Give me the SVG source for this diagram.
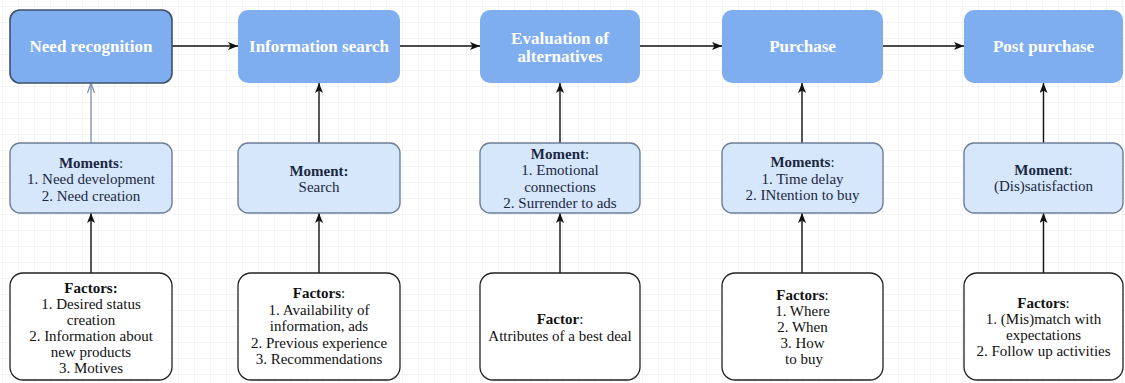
<svg xmlns="http://www.w3.org/2000/svg" width="1125" height="383" viewBox="0 0 1125 383">
<defs>
<pattern id="grid" width="16" height="16" patternUnits="userSpaceOnUse" x="2" y="6">
<path d="M16 0 L0 0 0 16" fill="none" stroke="#e9e9e9" stroke-width="1"/>
</pattern>
<marker id="ah" markerWidth="10" markerHeight="8" refX="10" refY="4" orient="auto" markerUnits="userSpaceOnUse">
<path d="M0,0 L10,4 L0,8 L2.5,4 Z" fill="#111"/>
</marker>
<marker id="ahb" markerWidth="10" markerHeight="8" refX="10" refY="4" orient="auto" markerUnits="userSpaceOnUse">
<path d="M0,0.5 L10,4 L0,7.5" fill="none" stroke="#7d8fa6" stroke-width="1.3"/>
</marker>
</defs>
<style>
.stage{fill:#7eaef0;stroke:none}
.stage1{fill:#7eaef0;stroke:#3f5068;stroke-width:1.6}
.mom{fill:#d6e7fb;stroke:#6c7f98;stroke-width:1.4}
.fac{fill:#ffffff;stroke:#222;stroke-width:1.3}
.t{font-family:"Liberation Serif","Times New Roman",serif;text-anchor:middle}
.ts{font-size:17px;font-weight:bold;fill:#ffffff}
.tm{font-size:15px;fill:#1b2742}
.tf{font-size:15px;fill:#111}
.b{font-weight:bold}
.conn{stroke:#111;stroke-width:1.4;fill:none}
.connb{stroke:#7d8fa6;stroke-width:1.3;fill:none}
</style>
<rect width="1125" height="383" fill="#ffffff"/>
<rect width="1125" height="383" fill="url(#grid)"/>

<g id="connectors">
<line class="conn" x1="172" y1="46" x2="238" y2="46" marker-end="url(#ah)"/>
<line class="conn" x1="400" y1="46" x2="480" y2="46" marker-end="url(#ah)"/>
<line class="conn" x1="640" y1="46" x2="722" y2="46" marker-end="url(#ah)"/>
<line class="conn" x1="883" y1="46" x2="964" y2="46" marker-end="url(#ah)"/>
<line class="connb" x1="91" y1="143" x2="91" y2="83" marker-end="url(#ahb)"/>
<line class="conn" x1="319" y1="143" x2="319" y2="83" marker-end="url(#ah)"/>
<line class="conn" x1="560" y1="143" x2="560" y2="83" marker-end="url(#ah)"/>
<line class="conn" x1="802" y1="143" x2="802" y2="83" marker-end="url(#ah)"/>
<line class="conn" x1="1043.5" y1="143" x2="1043.5" y2="83" marker-end="url(#ah)"/>
<line class="conn" x1="91" y1="273" x2="91" y2="213" marker-end="url(#ah)"/>
<line class="conn" x1="319" y1="273" x2="319" y2="213" marker-end="url(#ah)"/>
<line class="conn" x1="560" y1="273" x2="560" y2="213" marker-end="url(#ah)"/>
<line class="conn" x1="802" y1="273" x2="802" y2="213" marker-end="url(#ah)"/>
<line class="conn" x1="1043.5" y1="273" x2="1043.5" y2="213" marker-end="url(#ah)"/>
</g>

<g id="need-recognition">
<rect class="stage1" x="10" y="10" width="162" height="73" rx="10"/>
<text class="t ts" x="91" y="52">Need recognition</text>
</g>
<g id="information-search">
<rect class="stage" x="238" y="10" width="162" height="73" rx="10"/>
<text class="t ts" x="319" y="52">Information search</text>
</g>
<g id="evaluation">
<rect class="stage" x="480" y="10" width="160" height="73" rx="10"/>
<text class="t ts" x="560" y="43.5">Evaluation of</text>
<text class="t ts" x="560" y="62">alternatives</text>
</g>
<g id="purchase">
<rect class="stage" x="722" y="10" width="161" height="73" rx="10"/>
<text class="t ts" x="802.5" y="52">Purchase</text>
</g>
<g id="post-purchase">
<rect class="stage" x="964" y="10" width="159" height="73" rx="10"/>
<text class="t ts" x="1043.5" y="52">Post purchase</text>
</g>

<g id="moments-1">
<rect class="mom" x="10" y="143" width="162" height="70" rx="10"/>
<text class="t tm" x="91" y="167.5"><tspan class="b">Moments</tspan>:</text>
<text class="t tm" x="91" y="184">1. Need development</text>
<text class="t tm" x="91" y="200.5">2. Need creation</text>
</g>
<g id="moment-2">
<rect class="mom" x="238" y="143" width="162" height="70" rx="10"/>
<text class="t tm" x="319" y="176"><tspan class="b">Moment:</tspan></text>
<text class="t tm" x="319" y="192">Search</text>
</g>
<g id="moment-3">
<rect class="mom" x="480" y="143" width="160" height="70" rx="10"/>
<text class="t tm" x="560" y="158.5"><tspan class="b">Moment</tspan>:</text>
<text class="t tm" x="560" y="175">1. Emotional</text>
<text class="t tm" x="560" y="191.5">connections</text>
<text class="t tm" x="560" y="208">2. Surrender to ads</text>
</g>
<g id="moments-4">
<rect class="mom" x="722" y="143" width="161" height="70" rx="10"/>
<text class="t tm" x="802.5" y="167"><tspan class="b">Moments</tspan>:</text>
<text class="t tm" x="802.5" y="183.5">1. Time delay</text>
<text class="t tm" x="802.5" y="200">2. INtention to buy</text>
</g>
<g id="moment-5">
<rect class="mom" x="964" y="143" width="159" height="70" rx="10"/>
<text class="t tm" x="1043.5" y="175"><tspan class="b">Moment</tspan>:</text>
<text class="t tm" x="1043.5" y="191">(Dis)satisfaction</text>
</g>

<g id="factors-1">
<rect class="fac" x="10" y="273" width="162" height="107" rx="13"/>
<text class="t tf" x="91" y="293"><tspan class="b">Factors:</tspan></text>
<text class="t tf" x="91" y="309">1. Desired status</text>
<text class="t tf" x="91" y="325">creation</text>
<text class="t tf" x="91" y="341">2. Information about</text>
<text class="t tf" x="91" y="357">new products</text>
<text class="t tf" x="91" y="373">3. Motives</text>
</g>
<g id="factors-2">
<rect class="fac" x="238" y="273" width="162" height="107" rx="13"/>
<text class="t tf" x="319" y="298"><tspan class="b">Factors</tspan>:</text>
<text class="t tf" x="319" y="314.5">1. Availability of</text>
<text class="t tf" x="319" y="331">information, ads</text>
<text class="t tf" x="319" y="347.5">2. Previous experience</text>
<text class="t tf" x="319" y="364">3. Recommendations</text>
</g>
<g id="factor-3">
<rect class="fac" x="480" y="273" width="160" height="107" rx="13"/>
<text class="t tf" x="560" y="324"><tspan class="b">Factor</tspan>:</text>
<text class="t tf" x="560" y="341">Attributes of a best deal</text>
</g>
<g id="factors-4">
<rect class="fac" x="722" y="273" width="161" height="107" rx="13"/>
<text class="t tf" x="802.5" y="300"><tspan class="b">Factors</tspan>:</text>
<text class="t tf" x="802.5" y="316">1. Where</text>
<text class="t tf" x="802.5" y="332">2. When</text>
<text class="t tf" x="802.5" y="348">3. How</text>
<text class="t tf" x="804" y="364">to buy</text>
</g>
<g id="factors-5">
<rect class="fac" x="964" y="273" width="159" height="107" rx="13"/>
<text class="t tf" x="1043.5" y="308"><tspan class="b">Factors</tspan>:</text>
<text class="t tf" x="1043.5" y="324">1. (Mis)match with</text>
<text class="t tf" x="1043.5" y="340">expectations</text>
<text class="t tf" x="1043.5" y="356">2. Follow up activities</text>
</g>
</svg>
